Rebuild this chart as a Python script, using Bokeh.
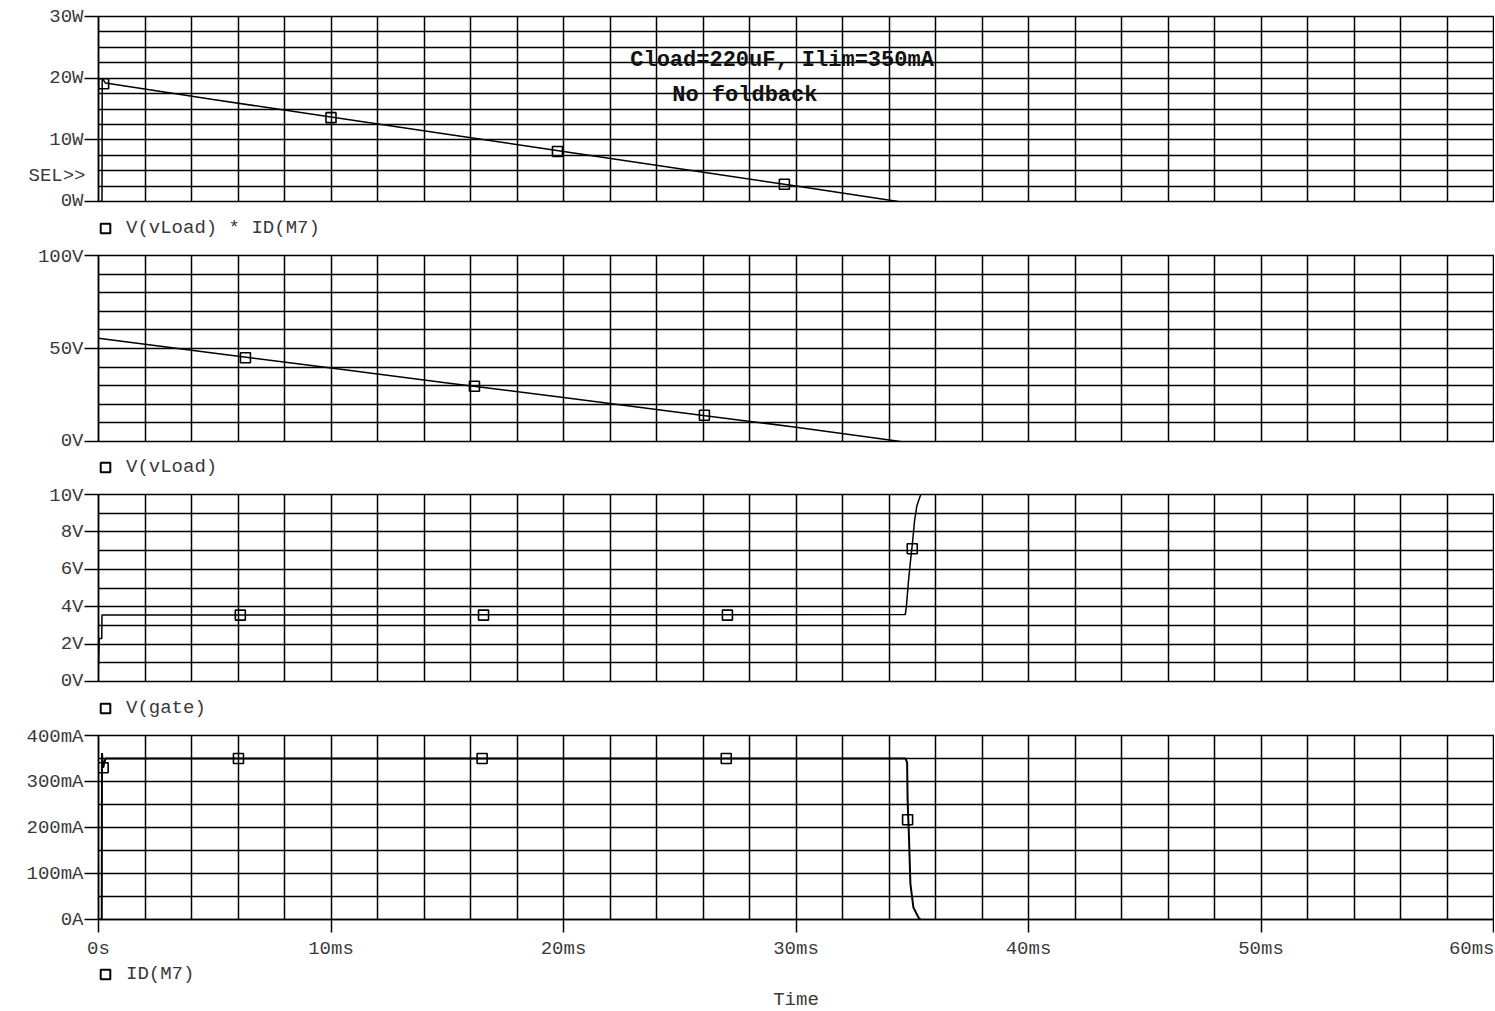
from bokeh.plotting import figure
from bokeh.layouts import column
from bokeh.models import Range1d, FixedTicker, Label, Legend, LegendItem, LinearAxis
from bokeh.embed import file_html
from bokeh.resources import INLINE

# ---------------- data (time in ms) ----------------
x_ticks = [0, 10, 20, 30, 40, 50, 60]
x_labels = ["0s", "10ms", "20ms", "30ms", "40ms", "50ms", "60ms"]

# Panel 1: V(vLoad) * ID(M7)  [W]
t_power = [0, 0.15, 0.16, 0.3, 5, 10, 15, 20, 25, 30, 34.4]
p_power = [0, 0, 20.0, 19.2, 16.5, 13.7, 10.9, 8.1, 5.3, 2.5, 0]
t_power_mk = [0.22, 10.0, 19.74, 29.5]
p_power_mk = [19.1, 13.6, 8.1, 2.8]
p1_ticks = [0, 10, 20, 30]
p1_labels = ["0W", "10W", "20W", "30W"]
sel_pos = [4.2]
sel_label = ["SEL>>"]

# Panel 2: V(vLoad) [V]
t_vload = [0, 5, 10, 15, 20, 25, 30, 34.5]
v_vload = [55.5, 47.5, 39.5, 31.5, 23.6, 15.6, 7.7, 0]
t_vload_mk = [6.32, 16.17, 26.06]
v_vload_mk = [45.0, 29.7, 14.1]
p2_ticks = [0, 50, 100]
p2_labels = ["0V", "50V", "100V"]

# Panel 3: V(gate) [V]
t_gate = [0, 0.03, 0.14, 0.15, 34.7, 34.75, 34.84, 34.92, 35.0, 35.1, 35.2, 35.35, 35.5]
v_gate = [0.9, 2.3, 2.3, 3.55, 3.58, 4.05, 5.4, 6.4, 7.3, 8.6, 9.4, 9.95, 10.6]
t_gate_mk = [6.1, 16.56, 27.05, 35.0]
v_gate_mk = [3.55, 3.55, 3.55, 7.1]
p3_ticks = [0, 2, 4, 6, 8, 10]
p3_labels = ["0V", "2V", "4V", "6V", "8V", "10V"]

# Panel 4: ID(M7) [mA]
t_id = [0, 0.14, 0.15, 0.2, 0.3, 34.71, 34.78, 34.80, 34.86, 34.92, 35.05, 35.27, 35.35]
i_id = [0, 0, 362, 330, 350, 350, 341, 260, 178, 78, 26, 4, 0]
t_id_mk = [0.2, 6.02, 16.5, 27.0, 34.8]
i_id_mk = [330, 350, 350, 350, 217]
p4_ticks = [0, 100, 200, 300, 400]
p4_labels = ["0A", "100mA", "200mA", "300mA", "400mA"]

legend_texts = ["V(vLoad) * ID(M7)", "V(vLoad)", "V(gate)", "ID(M7)"]
title_lines = ["Cload=220uF, Ilim=350mA", "No foldback"]
x_title = "Time"

# ---------------- styling ----------------
FONT = "Liberation Mono"
FS = "19px"
TXT = "#3a3a3a"
FW = 1395
LEFT = 98
RIGHT = 1
NAN = float("nan")


def style_axis_text(ax):
    ax.major_label_text_font = FONT
    ax.major_label_text_font_size = FS
    ax.major_label_text_color = TXT


def make_panel(frame_h, y_max, ticks, labels, grid_step, b_top, b_bottom):
    p = figure(output_backend="svg", toolbar_location=None,
               frame_width=FW, frame_height=frame_h,
               x_range=Range1d(0, 60), y_range=Range1d(0, y_max),
               min_border_left=LEFT, min_border_right=RIGHT,
               min_border_top=b_top, min_border_bottom=b_bottom)
    p.background_fill_color = "white"
    p.border_fill_color = "white"
    p.outline_line_color = "black"
    p.outline_line_width = 1.5
    p.outline_line_alpha = 1.0

    p.xgrid.ticker = FixedTicker(ticks=[v * 2 for v in range(31)])
    n = int(round(y_max / grid_step))
    p.ygrid.ticker = FixedTicker(ticks=[k * grid_step for k in range(n + 1)])
    for g in (p.xgrid, p.ygrid):
        g.grid_line_color = "black"
        g.grid_line_width = 1.5
        g.grid_line_alpha = 1.0

    ya = p.yaxis[0]
    ya.ticker = FixedTicker(ticks=ticks)
    ya.major_label_overrides = dict(zip(ticks, labels))
    ya.major_tick_in = 0
    ya.major_tick_out = 14
    ya.minor_tick_line_color = None
    ya.major_tick_line_color = "black"
    ya.major_tick_line_width = 1.5
    ya.axis_line_color = "black"
    ya.axis_line_width = 1.5
    ya.major_label_standoff = 1
    style_axis_text(ya)
    return p


def add_trace(p, t, y, tm, ym, lw=1.5):
    p.line(t, y, line_color="black", line_width=lw)
    p.scatter(tm, ym, marker="square", size=10, fill_color=None,
              line_color="black", line_width=1.6)


def legend_strip(h, text, center_from_top):
    s = figure(output_backend="svg", toolbar_location=None,
               frame_width=FW, frame_height=h,
               x_range=Range1d(0, 60), y_range=Range1d(0, h),
               min_border_left=LEFT, min_border_right=RIGHT,
               min_border_top=0, min_border_bottom=0)
    s.axis.visible = False
    s.grid.visible = False
    s.outline_line_color = None
    s.background_fill_color = "white"
    s.border_fill_color = "white"
    # legend proxy: same square marker style as the traces (no visible point)
    r = s.scatter(x=[NAN], y=[NAN], marker="square", size=10, fill_color=None,
                  line_color="black", line_width=2.0)
    leg = Legend(items=[LegendItem(label=text, renderers=[r])],
                 location=(-5, h - center_from_top - 12),
                 orientation="horizontal", padding=0, margin=0, spacing=0,
                 glyph_width=24, glyph_height=24, label_height=20,
                 label_standoff=9, border_line_color=None,
                 background_fill_alpha=0,
                 label_text_font=FONT, label_text_font_size=FS,
                 label_text_color=TXT)
    s.add_layout(leg)
    return s


# Panel 1
p1 = make_panel(185, 30, p1_ticks, p1_labels, 2.5, 16, 10)
p1.xaxis.visible = False
add_trace(p1, t_power, p_power, t_power_mk, p_power_mk)
sel_axis = LinearAxis(ticker=FixedTicker(ticks=sel_pos),
                      major_label_overrides=dict(zip(sel_pos, sel_label)),
                      major_tick_in=0, major_tick_out=0,
                      major_tick_line_color=None, minor_tick_line_color=None,
                      axis_line_color=None, major_label_standoff=-39)
style_axis_text(sel_axis)
p1.add_layout(sel_axis, "left")
p1.add_layout(Label(x=29.4, y=22.9, text=title_lines[0], text_font=FONT,
                    text_font_size="22px", text_font_style="bold", text_align="center",
                    text_baseline="middle", text_color="#111"))
p1.add_layout(Label(x=27.8, y=17.2, text=title_lines[1], text_font=FONT,
                    text_font_size="22px", text_font_style="bold", text_align="center",
                    text_baseline="middle", text_color="#111"))
leg1 = legend_strip(34, legend_texts[0], 17)

# Panel 2
p2 = make_panel(186, 100, p2_ticks, p2_labels, 10, 10, 10)
p2.xaxis.visible = False
add_trace(p2, t_vload, v_vload, t_vload_mk, v_vload_mk)
leg2 = legend_strip(33, legend_texts[1], 16)

# Panel 3
p3 = make_panel(187, 10, p3_ticks, p3_labels, 1, 10, 10)
p3.xaxis.visible = False
add_trace(p3, t_gate, v_gate, t_gate_mk, v_gate_mk)
leg3 = legend_strip(34, legend_texts[2], 17)

# Panel 4
p4 = make_panel(184, 400, p4_ticks, p4_labels, 50, 10, 42)
add_trace(p4, t_id, i_id, t_id_mk, i_id_mk, lw=2.0)
xa = p4.xaxis[0]
xa.ticker = FixedTicker(ticks=x_ticks)
xa.major_label_overrides = dict(zip(x_ticks, x_labels))
xa.major_tick_in = 0
xa.major_tick_out = 13
xa.minor_tick_line_color = None
xa.major_tick_line_color = "black"
xa.major_tick_line_width = 1.5
xa.axis_line_color = "black"
xa.axis_line_width = 1.5
xa.major_label_standoff = 5
style_axis_text(xa)

leg4 = legend_strip(47, legend_texts[3], 12)
leg4.add_layout(Label(x=30, y=47 - 37, text=x_title, text_font=FONT, text_font_size=FS,
                      text_align="center", text_baseline="middle", text_color=TXT))

layout = column(p1, leg1, p2, leg2, p3, leg3, p4, leg4)
open("out.html", "w").write(file_html(layout, INLINE))
